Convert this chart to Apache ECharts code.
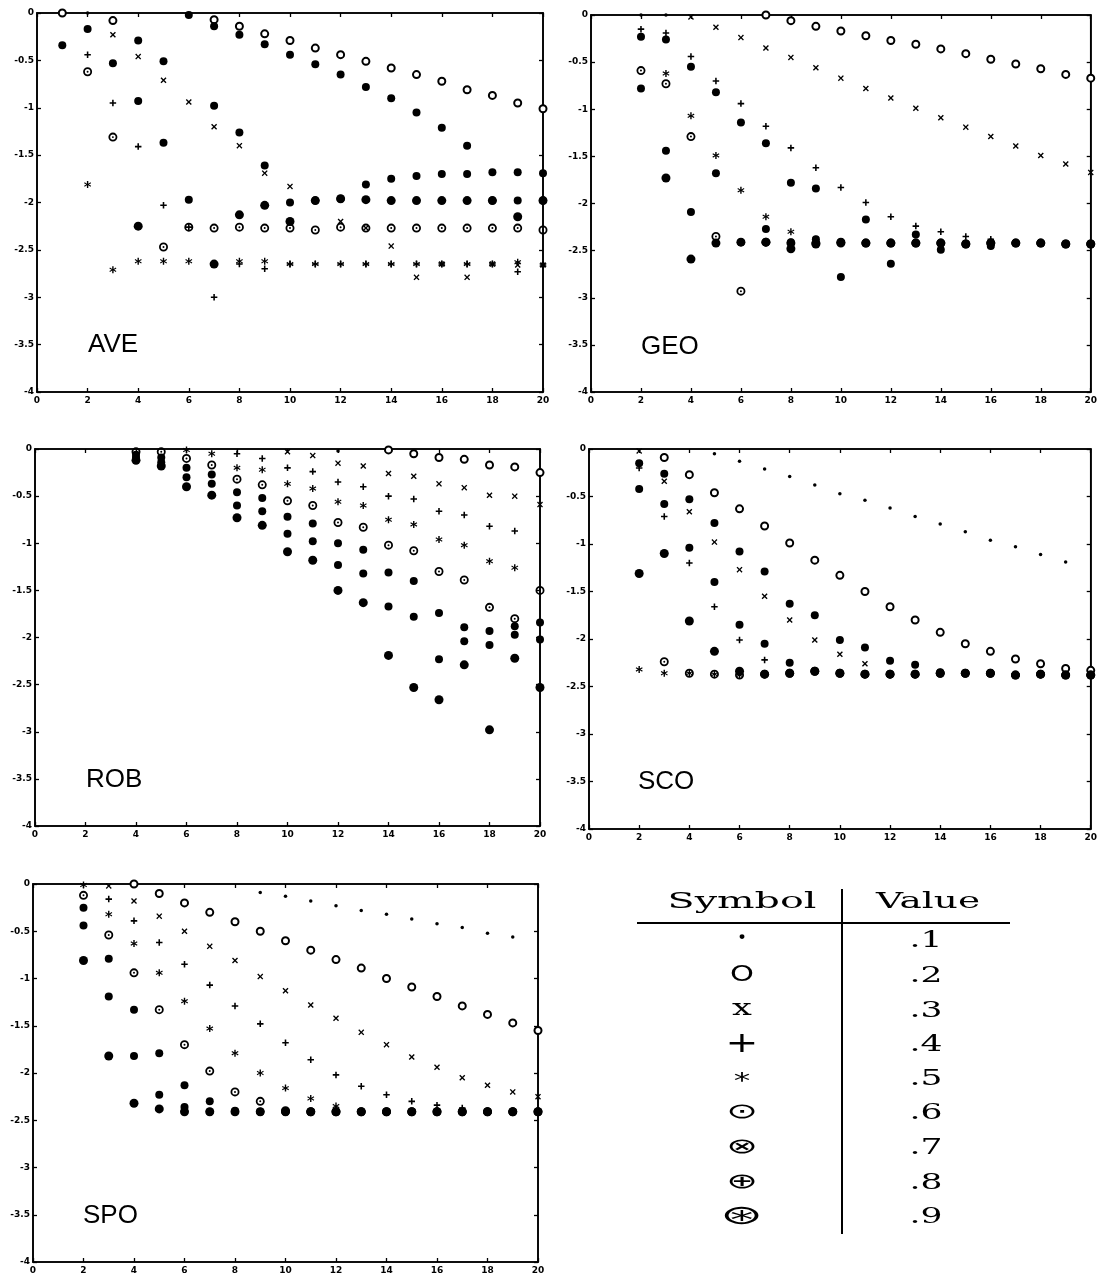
<!DOCTYPE html>
<html>
<head>
<meta charset="utf-8">
<title>Symbol value panels</title>
<script src="https://cdn.jsdelivr.net/npm/echarts@6/dist/echarts.min.js"></script>
<style>
  html, body { margin: 0; padding: 0; background: #fff; }
  #chart { width: 1100px; height: 1278px; }
</style>
</head>
<body>
<div id="chart"></div>
<script>
const n = null;
// x positions 1..20, one value per x (null = no mark)
const X_VALUES = [1, 2, 3, 4, 5, 6, 7, 8, 9, 10, 11, 12, 13, 14, 15, 16, 17, 18, 19, 20];
const SYMBOL_VALUES = ['.1', '.2', '.3', '.4', '.5', '.6', '.7', '.8', '.9'];

const AVE_1 = [n, 0, n, n, n, n, n, n, n, n, n, n, n, n, n, n, n, n, n, n];
const AVE_2 = [0, n, -0.08, n, n, n, -0.07, -0.14, -0.22, -0.29, -0.37, -0.44, -0.51, -0.58, -0.65, -0.72, -0.81, -0.87, -0.95, -1.01];
const AVE_3 = [n, n, -0.23, -0.46, -0.71, -0.94, -1.20, -1.40, -1.69, -1.83, -1.98, -2.20, -2.27, -2.46, -2.79, -2.65, -2.79, -2.65, -2.66, -2.66];
const AVE_4 = [n, -0.44, -0.95, -1.41, -2.03, -2.26, -3.00, -2.65, -2.70, -2.65, -2.65, -2.65, -2.65, -2.65, -2.65, -2.65, -2.65, -2.65, -2.73, -2.66];
const AVE_5 = [n, -1.81, -2.71, -2.62, -2.62, -2.62, -2.65, -2.62, -2.62, -2.65, -2.65, -2.65, -2.65, -2.65, -2.65, -2.65, -2.65, -2.65, -2.63, -2.66];
const AVE_6 = [n, -0.62, -1.31, n, -2.47, -2.26, -2.27, -2.26, -2.27, -2.27, -2.29, -2.26, -2.27, -2.27, -2.27, -2.27, -2.27, -2.27, -2.27, -2.29];
const AVE_7 = [-0.34, -0.17, -0.53, -0.29, -0.51, -0.02, -0.14, -0.23, -0.33, -0.44, -0.54, -0.65, -0.78, -0.90, -1.05, -1.21, -1.40, -1.68, -1.68, -1.69];
const AVE_8 = [n, n, n, -0.93, -1.37, -1.97, -0.98, -1.26, -1.61, -2.00, -1.98, -1.96, -1.81, -1.75, -1.72, -1.70, -1.70, -1.98, -1.98, -1.98];
const AVE_9 = [n, n, n, -2.25, n, n, -2.65, -2.13, -2.03, -2.20, -1.98, -1.96, -1.97, -1.98, -1.98, -1.98, -1.98, -1.98, -2.15, -1.98];

const GEO_1 = [n, 0, 0, n, n, n, n, n, n, n, n, n, n, n, n, n, n, n, n, n];
const GEO_2 = [n, n, n, n, n, n, 0, -0.06, -0.12, -0.17, -0.22, -0.27, -0.31, -0.36, -0.41, -0.47, -0.52, -0.57, -0.63, -0.67];
const GEO_3 = [n, n, n, -0.02, -0.13, -0.24, -0.35, -0.45, -0.56, -0.67, -0.78, -0.88, -0.99, -1.09, -1.19, -1.29, -1.39, -1.49, -1.58, -1.67];
const GEO_4 = [n, -0.15, -0.19, -0.44, -0.70, -0.94, -1.18, -1.41, -1.62, -1.83, -1.99, -2.14, -2.24, -2.30, -2.35, -2.38, -2.42, -2.42, -2.43, -2.43];
const GEO_5 = [n, n, -0.62, -1.07, -1.49, -1.86, -2.14, -2.30, -2.38, -2.41, -2.42, -2.42, -2.33, -2.42, -2.43, -2.45, -2.42, -2.42, -2.43, -2.43];
const GEO_6 = [n, -0.59, -0.73, -1.29, -2.35, -2.93, -2.41, -2.42, -2.42, -2.42, -2.42, -2.42, -2.42, -2.42, -2.43, -2.42, -2.42, -2.42, -2.43, -2.43];
const GEO_7 = [n, -0.23, -0.26, -0.55, -0.82, -1.14, -1.36, -1.78, -1.84, -2.41, -2.17, -2.42, -2.33, -2.42, -2.43, -2.42, -2.42, -2.42, -2.43, -2.43];
const GEO_8 = [n, -0.78, -1.44, -2.09, -1.68, -2.41, -2.27, -2.41, -2.38, -2.78, -2.42, -2.64, -2.42, -2.49, -2.43, -2.45, -2.42, -2.42, -2.43, -2.43];
const GEO_9 = [n, n, -1.73, -2.59, -2.42, -2.41, -2.41, -2.48, -2.43, -2.41, -2.42, -2.42, -2.42, -2.42, -2.43, -2.42, -2.42, -2.42, -2.43, -2.43];

const ROB_1 = [n, n, n, n, n, n, n, n, n, n, n, -0.02, n, n, n, n, n, n, n, n];
const ROB_2 = [n, n, n, n, n, n, n, n, n, n, n, n, n, -0.01, -0.05, -0.09, -0.11, -0.17, -0.19, -0.25];
const ROB_3 = [n, n, n, n, n, n, n, n, n, -0.03, -0.07, -0.15, -0.18, -0.26, -0.29, -0.37, -0.41, -0.49, -0.50, -0.59];
const ROB_4 = [n, n, n, n, n, n, n, -0.05, -0.10, -0.20, -0.24, -0.35, -0.40, -0.50, -0.53, -0.66, -0.70, -0.82, -0.87, n];
const ROB_5 = [n, n, n, n, n, -0.01, -0.05, -0.20, -0.22, -0.37, -0.42, -0.56, -0.60, -0.75, -0.80, -0.96, -1.02, -1.19, -1.26, n];
const ROB_6 = [n, n, n, -0.03, -0.03, -0.10, -0.17, -0.32, -0.38, -0.55, -0.60, -0.78, -0.83, -1.02, -1.08, -1.30, -1.39, -1.68, -1.80, -1.50];
const ROB_7 = [n, n, n, -0.06, -0.09, -0.20, -0.27, -0.46, -0.52, -0.72, -0.79, -1.00, -1.07, -1.31, -1.40, -1.74, -1.89, -1.93, -1.88, -1.84];
const ROB_8 = [n, n, n, -0.09, -0.14, -0.30, -0.37, -0.60, -0.66, -0.90, -0.98, -1.23, -1.32, -1.67, -1.78, -2.23, -2.04, -2.08, -1.97, -2.02];
const ROB_9 = [n, n, n, -0.12, -0.18, -0.40, -0.49, -0.73, -0.81, -1.09, -1.18, -1.50, -1.63, -2.19, -2.53, -2.66, -2.29, -2.98, -2.22, -2.53];

const SCO_1 = [n, n, n, n, -0.05, -0.13, -0.21, -0.29, -0.38, -0.47, -0.54, -0.62, -0.71, -0.79, -0.87, -0.96, -1.03, -1.11, -1.19, n];
const SCO_2 = [n, n, -0.09, -0.27, -0.46, -0.63, -0.81, -0.99, -1.17, -1.33, -1.50, -1.66, -1.80, -1.93, -2.05, -2.13, -2.21, -2.26, -2.31, -2.33];
const SCO_3 = [n, -0.02, -0.34, -0.66, -0.98, -1.27, -1.55, -1.80, -2.01, -2.16, -2.26, -2.37, -2.37, -2.36, -2.36, -2.36, -2.38, -2.37, -2.38, -2.38];
const SCO_4 = [n, -0.20, -0.71, -1.20, -1.66, -2.01, -2.22, -2.36, -2.34, -2.36, -2.37, -2.37, -2.37, -2.36, -2.36, -2.36, -2.38, -2.37, -2.38, -2.38];
const SCO_5 = [n, -2.32, -2.36, -2.36, -2.37, -2.38, -2.37, -2.36, -2.34, -2.36, -2.37, -2.37, -2.37, -2.36, -2.36, -2.36, -2.38, -2.37, -2.38, -2.38];
const SCO_6 = [n, n, -2.24, -2.36, -2.37, -2.38, -2.37, -2.36, -2.34, -2.36, -2.37, -2.37, -2.37, -2.36, -2.36, -2.36, -2.38, -2.37, -2.38, -2.38];
const SCO_7 = [n, -0.15, -0.26, -0.53, -0.78, -1.08, -1.29, -1.63, -1.75, -2.01, -2.09, -2.23, -2.27, -2.35, -2.36, -2.36, -2.38, -2.37, -2.38, -2.38];
const SCO_8 = [n, -0.42, -0.58, -1.04, -1.40, -1.85, -2.05, -2.25, -2.34, -2.36, -2.37, -2.37, -2.37, -2.36, -2.36, -2.36, -2.38, -2.37, -2.38, -2.38];
const SCO_9 = [n, -1.31, -1.10, -1.81, -2.13, -2.34, -2.37, -2.36, -2.34, -2.36, -2.37, -2.37, -2.37, -2.36, -2.36, -2.36, -2.38, -2.37, -2.38, -2.38];

const SPO_1 = [n, n, n, n, n, n, n, n, -0.09, -0.13, -0.18, -0.23, -0.28, -0.32, -0.37, -0.42, -0.46, -0.52, -0.56, n];
const SPO_2 = [n, n, n, 0, -0.10, -0.20, -0.30, -0.40, -0.50, -0.60, -0.70, -0.80, -0.89, -1.00, -1.09, -1.19, -1.29, -1.38, -1.47, -1.55];
const SPO_3 = [n, n, -0.02, -0.18, -0.34, -0.50, -0.66, -0.81, -0.98, -1.13, -1.28, -1.42, -1.57, -1.70, -1.83, -1.94, -2.05, -2.13, -2.20, -2.25];
const SPO_4 = [n, n, -0.16, -0.39, -0.62, -0.85, -1.07, -1.29, -1.48, -1.68, -1.86, -2.02, -2.14, -2.23, -2.30, -2.34, -2.37, -2.40, -2.40, -2.40];
const SPO_5 = [n, -0.01, -0.32, -0.63, -0.94, -1.24, -1.53, -1.79, -2.00, -2.16, -2.27, -2.35, -2.41, -2.41, -2.41, -2.41, -2.41, -2.41, -2.41, -2.41];
const SPO_6 = [n, -0.12, -0.54, -0.94, -1.33, -1.70, -1.98, -2.20, -2.30, -2.40, -2.41, -2.41, -2.41, -2.41, -2.41, -2.41, -2.41, -2.41, -2.41, -2.41];
const SPO_7 = [n, -0.25, -0.79, -1.33, -1.79, -2.13, -2.30, -2.40, -2.41, -2.41, -2.41, -2.41, -2.41, -2.41, -2.41, -2.41, -2.41, -2.41, -2.41, -2.41];
const SPO_8 = [n, -0.44, -1.19, -1.82, -2.23, -2.36, -2.41, -2.41, -2.41, -2.41, -2.41, -2.41, -2.41, -2.41, -2.41, -2.41, -2.41, -2.41, -2.41, -2.41];
const SPO_9 = [n, -0.81, -1.82, -2.32, -2.38, -2.41, -2.41, -2.41, -2.41, -2.41, -2.41, -2.41, -2.41, -2.41, -2.41, -2.41, -2.41, -2.41, -2.41, -2.41];

const X_TICKS = { min: 0, max: 20, interval: 2 };
const Y_TICKS = { min: -4, max: 0, interval: 0.5 };

// panel boxes in px, matched to the scan
const panels = [
  { name: 'AVE', left: 37, top: 13, width: 506, height: 379, lx: 88, ly: 345, rows: [AVE_1, AVE_2, AVE_3, AVE_4, AVE_5, AVE_6, AVE_7, AVE_8, AVE_9] },
  { name: 'GEO', left: 591, top: 15, width: 502, height: 377, lx: 641, ly: 347, rows: [GEO_1, GEO_2, GEO_3, GEO_4, GEO_5, GEO_6, GEO_7, GEO_8, GEO_9] },
  { name: 'ROB', left: 35, top: 449, width: 505, height: 377, lx: 86, ly: 780, rows: [ROB_1, ROB_2, ROB_3, ROB_4, ROB_5, ROB_6, ROB_7, ROB_8, ROB_9] },
  { name: 'SCO', left: 589, top: 449, width: 503, height: 380, lx: 638, ly: 782, rows: [SCO_1, SCO_2, SCO_3, SCO_4, SCO_5, SCO_6, SCO_7, SCO_8, SCO_9] },
  { name: 'SPO', left: 33, top: 884, width: 505, height: 378, lx: 83, ly: 1216, rows: [SPO_1, SPO_2, SPO_3, SPO_4, SPO_5, SPO_6, SPO_7, SPO_8, SPO_9] },
];

const P_X = 'path://M0,1.6 L1.6,0 L5,3.4 L8.4,0 L10,1.6 L6.6,5 L10,8.4 L8.4,10 L5,6.6 L1.6,10 L0,8.4 L3.4,5 Z';
const P_PLUS = 'path://M3.8,0 H6.2 V3.8 H10 V6.2 H6.2 V10 H3.8 V6.2 H0 V3.8 H3.8 Z';
const P_STAR = 'path://M4,0 H6 V3.8 L9.2,1.8 L10,3.3 L6.8,5 L10,6.7 L9.2,8.2 L6,6.2 V10 H4 V6.2 L0.8,8.2 L0,6.7 L3.2,5 L0,3.3 L0.8,1.8 L4,3.8 Z';
const P_ODOT = 'path://M5,0 A5,5 0 1 1 5,10 A5,5 0 1 1 5,0 Z M5,2 A3,3 0 1 0 5,8 A3,3 0 1 0 5,2 Z M5,3.9 A1.1,1.1 0 1 1 5,6.1 A1.1,1.1 0 1 1 5,3.9 Z';

const markStyles = [
  { symbol: 'circle', size: 3.5 },
  { symbol: 'emptyCircle', size: 7, border: 1.7 },
  { symbol: P_X, size: 6 },
  { symbol: P_PLUS, size: 6.5 },
  { symbol: P_STAR, size: 7 },
  { symbol: P_ODOT, size: 9 },
  { symbol: 'circle', size: 8 },
  { symbol: 'circle', size: 8 },
  { symbol: 'circle', size: 9 },
];

const labelStyle = { color: '#000', fontSize: 9, fontWeight: 'bold', fontFamily: 'DejaVu Sans' };
const lineStyle = { color: '#000', width: 1.6 };

const grid = [], xAxis = [], yAxis = [], series = [], graphic = [];

panels.forEach((p, i) => {
  grid.push({ left: p.left, top: p.top, width: p.width, height: p.height, show: true, borderColor: '#000', borderWidth: 1.6, containLabel: false });
  ['bottom', 'top'].forEach((pos) => {
    xAxis.push({
      type: 'value', gridIndex: i, position: pos, ...X_TICKS,
      axisLine: { show: true, onZero: false, lineStyle },
      axisTick: { show: true, inside: true, length: 4, lineStyle: { color: '#000', width: 1.3 } },
      axisLabel: { show: pos === 'bottom', margin: 4, ...labelStyle },
      splitLine: { show: false },
    });
  });
  ['left', 'right'].forEach((pos) => {
    yAxis.push({
      type: 'value', gridIndex: i, position: pos, ...Y_TICKS,
      axisLine: { show: true, onZero: false, lineStyle },
      axisTick: { show: true, inside: true, length: 4, lineStyle: { color: '#000', width: 1.3 } },
      axisLabel: { show: pos === 'left', margin: 3, ...labelStyle },
      splitLine: { show: false },
    });
  });
  p.rows.forEach((row, k) => {
    const m = markStyles[k];
    series.push({
      name: p.name + ' ' + SYMBOL_VALUES[k],
      type: 'scatter',
      xAxisIndex: 2 * i,
      yAxisIndex: 2 * i,
      symbol: m.symbol,
      symbolSize: m.size,
      clip: false,
      silent: true,
      itemStyle: m.border
        ? { color: '#000', borderColor: '#000', borderWidth: m.border, opacity: 1 }
        : { color: '#000', opacity: 1 },
      data: row.map((v, j) => (v == null ? null : [X_VALUES[j], v])).filter((d) => d),
    });
  });
  graphic.push({
    type: 'text', x: p.lx, y: p.ly,
    style: { text: p.name, fill: '#000', font: '26px "Liberation Sans", Arial, sans-serif', textVerticalAlign: 'middle' },
  });
});

// symbol / value table
const tableRowsY = [941, 976, 1011, 1045, 1079, 1113, 1148, 1183, 1217];
const tableGlyphs = ['\u00b7', 'O', 'x', '+', '*', '\u2299', '\u2297', '\u2295', '\u229b'];
const glyphFont = ['bold 26px "DejaVu Serif"', '21px "DejaVu Sans"', '22px "DejaVu Serif"', '28px "DejaVu Sans"', '22px "DejaVu Sans"', '21px "DejaVu Sans"', '21px "DejaVu Sans"', '21px "DejaVu Sans"', '27px "DejaVu Sans"'];
const glyphScale = [1, 1.45, 1.6, 1.4, 1.5, 1.8, 1.8, 1.8, 1.9];
const glyphDy = [-2, 0, -2, 0, 3, 0, 0, 0, 0];

graphic.push(
  { type: 'text', x: 742, y: 902, scaleX: 1.8, style: { text: 'Symbol', fill: '#000', font: '22px "DejaVu Serif"', textAlign: 'center', textVerticalAlign: 'middle' } },
  { type: 'text', x: 928, y: 902, scaleX: 1.7, style: { text: 'Value', fill: '#000', font: '22px "DejaVu Serif"', textAlign: 'center', textVerticalAlign: 'middle' } },
  { type: 'line', shape: { x1: 637, y1: 923, x2: 1010, y2: 923 }, style: { stroke: '#000', lineWidth: 2 } },
  { type: 'line', shape: { x1: 842, y1: 889, x2: 842, y2: 1234 }, style: { stroke: '#000', lineWidth: 2 } }
);
tableRowsY.forEach((y, k) => {
  graphic.push({
    type: 'text', x: 742, y: y + glyphDy[k], scaleX: glyphScale[k],
    style: { text: tableGlyphs[k], fill: '#000', font: glyphFont[k], textAlign: 'center', textVerticalAlign: 'middle' },
  });
  graphic.push({
    type: 'text', x: 926, y: y, scaleX: 1.5,
    style: { text: SYMBOL_VALUES[k], fill: '#000', font: '23px "DejaVu Serif"', textAlign: 'center', textVerticalAlign: 'middle' },
  });
});

const chart = echarts.init(document.getElementById('chart'), null, { renderer: 'canvas' });
chart.setOption({
  backgroundColor: '#fff',
  animation: false,
  grid, xAxis, yAxis, series, graphic,
});
</script>
</body>
</html>
